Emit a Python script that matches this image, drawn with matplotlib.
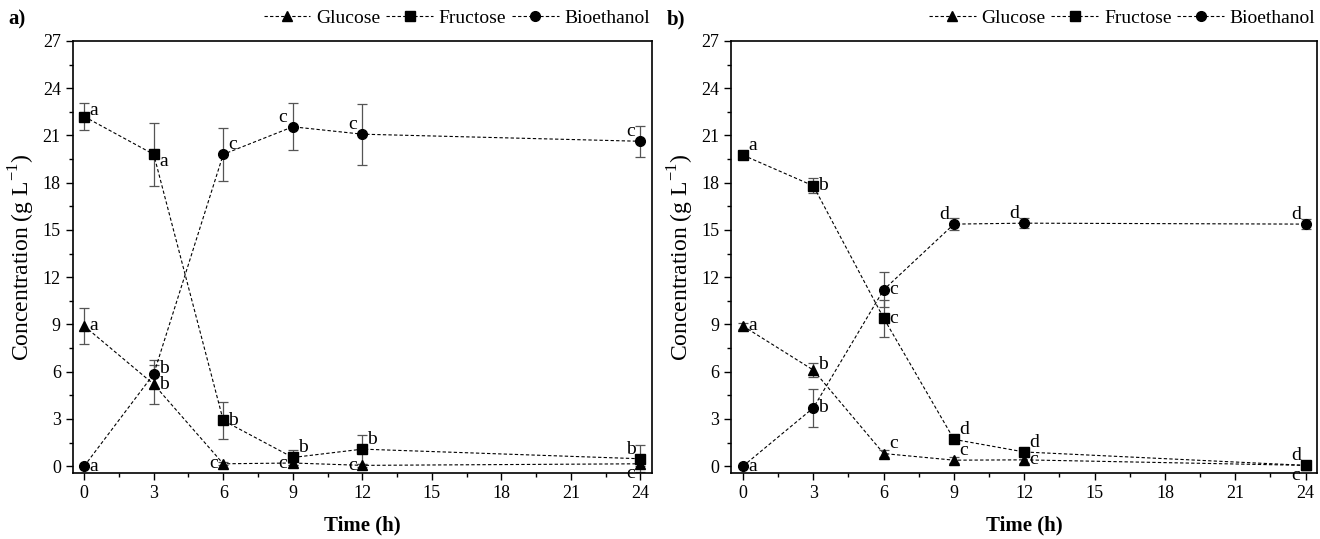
import matplotlib.pyplot as plt
from matplotlib.ticker import MultipleLocator

plt.rcParams['font.family'] = ['Liberation Serif', 'DejaVu Serif']

time_h = [0, 3, 6, 9, 12, 24]

# panel a
glu_a = [8.9, 5.2, 0.15, 0.2, 0.05, 0.15]
glu_a_err = [1.17, 1.25, 0.1, 0.15, 0.1, 0.15]
fru_a = [22.2, 19.8, 2.9, 0.55, 1.08, 0.47]
fru_a_err = [0.88, 2.0, 1.17, 0.45, 0.92, 0.87]
eth_a = [0.0, 5.85, 19.8, 21.55, 21.08, 20.63]
eth_a_err = [0.0, 0.88, 1.68, 1.5, 1.93, 1.0]

# panel b
glu_b = [8.9, 6.1, 0.8, 0.38, 0.4, 0.05]
glu_b_err = [0.2, 0.45, 0.2, 0.2, 0.2, 0.05]
fru_b = [19.75, 17.8, 9.4, 1.7, 0.9, 0.05]
fru_b_err = [0.2, 0.48, 1.17, 0.25, 0.15, 0.05]
eth_b = [0.0, 3.7, 11.2, 15.37, 15.43, 15.37]
eth_b_err = [0.0, 1.2, 1.1, 0.4, 0.3, 0.3]

# significance letters
glu_a_lab = ['a', 'b', 'c', 'c', 'c', 'c']
fru_a_lab = ['a', 'a', 'b', 'b', 'b', 'b']
eth_a_lab = ['a', 'b', 'c', 'c', 'c', 'c']
glu_b_lab = ['a', 'b', 'c', 'c', 'c', 'c']
fru_b_lab = ['a', 'b', 'c', 'd', 'd', 'd']
eth_b_lab = ['a', 'b', 'c', 'd', 'd', 'd']

# where each letter sits relative to its point (points offset)
pos = {'r': (7, 0), 'ur': (7, 7), 'ul': (-7, 7), 'l': (-7, 0), 'll': (-7, -7),
       'rd': (7, -5), 'ru': (7, 4)}
glu_a_pos = ['r', 'r', 'l', 'l', 'l', 'll']
fru_a_pos = ['ru', 'rd', 'r', 'ur', 'ur', 'ul']
eth_a_pos = ['r', 'ru', 'ur', 'ul', 'ul', 'ul']
glu_b_pos = ['r', 'ru', 'ur', 'ur', 'r', 'll']
fru_b_pos = ['ur', 'r', 'r', 'ur', 'ur', 'ul']
eth_b_pos = ['r', 'r', 'r', 'ul', 'ul', 'ul']

fig = plt.figure(figsize=(13.2, 5.39), dpi=100)
ax1 = fig.add_axes([0.055, 0.122, 0.439, 0.802])
ax2 = fig.add_axes([0.554, 0.122, 0.444, 0.802])

panels = [
    (ax1, 'a)', [(glu_a, glu_a_err, glu_a_lab, glu_a_pos, '^', 'Glucose'),
                 (fru_a, fru_a_err, fru_a_lab, fru_a_pos, 's', 'Fructose'),
                 (eth_a, eth_a_err, eth_a_lab, eth_a_pos, 'o', 'Bioethanol')]),
    (ax2, 'b)', [(glu_b, glu_b_err, glu_b_lab, glu_b_pos, '^', 'Glucose'),
                 (fru_b, fru_b_err, fru_b_lab, fru_b_pos, 's', 'Fructose'),
                 (eth_b, eth_b_err, eth_b_lab, eth_b_pos, 'o', 'Bioethanol')]),
]

for ax, tag, series in panels:
    handles = []
    for y, err, labs, ps, mk, name in series:
        ax.errorbar(time_h, y, yerr=err, fmt='none', ecolor='#555555',
                    elinewidth=0.9, capsize=3.5, capthick=0.9, zorder=2)
        h, = ax.plot(time_h, y, color='black', ls=(0, (3, 2)), lw=0.8,
                     marker=mk, markersize=7, zorder=3, label=name)
        handles.append(h)
        for x, v, t, p in zip(time_h, y, labs, ps):
            dx, dy = pos[p]
            ax.annotate(t, (x, v), xytext=(dx, dy), textcoords='offset points',
                        ha='center', va='center', fontsize=14)
    ax.set_xlim(-0.5, 24.5)
    ax.set_ylim(-0.45, 27)
    ax.xaxis.set_major_locator(MultipleLocator(3))
    ax.xaxis.set_minor_locator(MultipleLocator(1.5))
    ax.yaxis.set_major_locator(MultipleLocator(3))
    ax.yaxis.set_minor_locator(MultipleLocator(1.5))
    ax.tick_params(which='major', direction='out', length=5, width=1, labelsize=13)
    ax.tick_params(which='minor', direction='out', length=3, width=1)
    for s in ax.spines.values():
        s.set_linewidth(1.2)
    ax.set_xlabel('Time (h)', fontsize=15, fontweight='bold', labelpad=10)
    ax.set_ylabel('Concentration (g L$^{\\mathregular{-1}}$)', fontsize=17, labelpad=4)
    ax.legend(handles=handles, loc='center right', bbox_to_anchor=(1.0, 1.053),
              ncol=3, frameon=False, fontsize=14, handlelength=2.4,
              handletextpad=0.3, columnspacing=0.3, borderaxespad=0.0,
              borderpad=0.1)
    ax.text(-0.11, 1.05, tag, transform=ax.transAxes, fontsize=15,
            fontweight='bold', va='center', ha='left')

fig.savefig('out.png', dpi=100)
